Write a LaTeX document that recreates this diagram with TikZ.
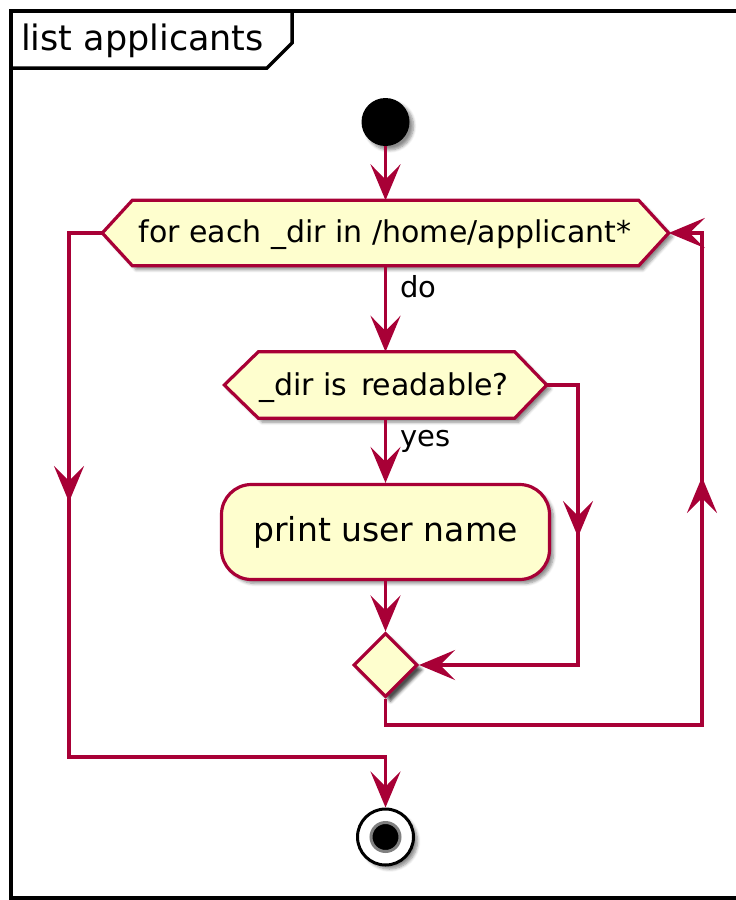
\documentclass[tikz,border=0pt]{standalone}
\usepackage{fontspec}
\setmainfont{DejaVu Sans}
\usetikzlibrary{arrows.meta,shapes.geometric,shadows.blur}

\definecolor{umlline}{HTML}{A80036}
\definecolor{umlfill}{HTML}{FEFECE}

\tikzset{
  flow/.style={draw=umlline, line width=3.2pt},
  tip/.style={-{Stealth[length=36pt,width=30pt,inset=15pt]}},
  softshadow/.style={blur shadow={shadow xshift=4pt, shadow yshift=-4pt,
      shadow blur radius=3pt, shadow blur steps=6, shadow opacity=45}},
  hexbox/.style={inner sep=0pt, minimum height=65pt},
  hexdraw/.style={draw=umlline, fill=umlfill, line width=3.2pt, softshadow},
  hextext/.style={anchor=base, inner sep=0pt, font=\fontsize{30}{36}\selectfont},
  lbl/.style={anchor=base west, inner sep=0pt, font=\fontsize{29}{34}\selectfont},
  action/.style={draw=umlline, fill=umlfill, line width=3.2pt, rounded corners=30pt,
      minimum width=328pt, minimum height=95pt, inner sep=0pt,
      font=\fontsize{33}{40}\selectfont, softshadow},
}

\begin{document}
\begin{tikzpicture}[x=1pt,y=-1pt]
\useasboundingbox (0,0) rectangle (736,900);
\clip (0,0) rectangle (736,900);

% outer frame and its title tab
\draw[line width=4pt] (760,11) -- (11,11) -- (11,898) -- (760,898);
\draw[line width=3.5pt] (11,68) -- (267,68) -- (292,43) -- (292,11);
\node[anchor=base west, inner sep=0pt, font=\fontsize{35}{42}\selectfont] (title) at (21,50) {list applicants};

% start point
\node[circle, fill=black, minimum size=48pt, inner sep=0pt, softshadow] (start) at (385.5,122) {};

% while loop header: an invisible box gives the anchors, the hexagon is drawn round it
\node[hexbox, minimum width=566pt] (loop) at (385.5,233) {};
\path[hexdraw] (loop.west) -- ([xshift=30pt]loop.north west) -- ([xshift=-30pt]loop.north east)
  -- (loop.east) -- ([xshift=-30pt]loop.south east) -- ([xshift=30pt]loop.south west) -- cycle;
\node[hextext] (looptext) at (385,242) {for each \_dir in /home/applicant*};

% condition
\node[hexbox, minimum width=322pt, minimum height=66pt] (test) at (385.5,385) {};
\path[hexdraw] (test.west) -- ([xshift=34pt]test.north west) -- ([xshift=-32pt]test.north east)
  -- (test.east) -- ([xshift=-32pt]test.south east) -- ([xshift=34pt]test.south west) -- cycle;
\node[hextext] (testtext) at (384,395) {\_dir is\hspace{4pt} readable?};

% action
\node[action] (print) at (385.5,532) {print user name};

% merge point
\node[diamond, draw=umlline, fill=umlfill, line width=3.2pt, minimum width=64pt,
      minimum height=64pt, inner sep=0pt,
      blur shadow={shadow xshift=5pt, shadow yshift=-5pt, shadow blur radius=3pt, shadow opacity=70}]
      (merge) at (385.5,665) {};

% end point
\node[circle, draw=black, fill=white, line width=3pt, minimum size=56pt, inner sep=0pt, softshadow]
      (stop) at (385.5,837) {};
\node[circle, draw=gray, fill=black, line width=3pt, minimum size=29pt, inner sep=0pt]
      (stopdot) at (385.5,837) {};

% routing points
\coordinate (r1) at (578,385);
\coordinate (r2) at (578,665);
\coordinate (rmid) at (578,537);
\coordinate (b1) at (385.5,725);
\coordinate (b2) at (702,725);
\coordinate (b3) at (702,233);
\coordinate (bmid) at (702,477);
\coordinate (e1) at (69,233);
\coordinate (e2) at (69,757);
\coordinate (e3) at (385.5,757);
\coordinate (emid) at (69,502);

% connectors
\draw[flow, tip] (start) -- (loop.north);
\draw[flow, tip] (loop.south) -- (test.north);
\node[lbl] (dolbl) at (400,297) {do};
\draw[flow, tip] (test.south) -- (print.north);
\node[lbl] (yeslbl) at (400,446) {yes};
\draw[flow, tip] (print.south) -- (merge.north);

\draw[flow, tip] (test.east) -- (r1) -- (r2) -- (merge.east);
\draw[flow, tip] (r1) -- (rmid);

\draw[flow, tip] (merge.south) -- (b1) -- (b2) -- (b3) -- (loop.east);
\draw[flow, tip] (b2) -- (bmid);

\draw[flow, tip] (loop.west) -- (e1) -- (e2) -- (e3) -- (stop.north);
\draw[flow, tip] (e1) -- (emid);
\end{tikzpicture}
\end{document}
